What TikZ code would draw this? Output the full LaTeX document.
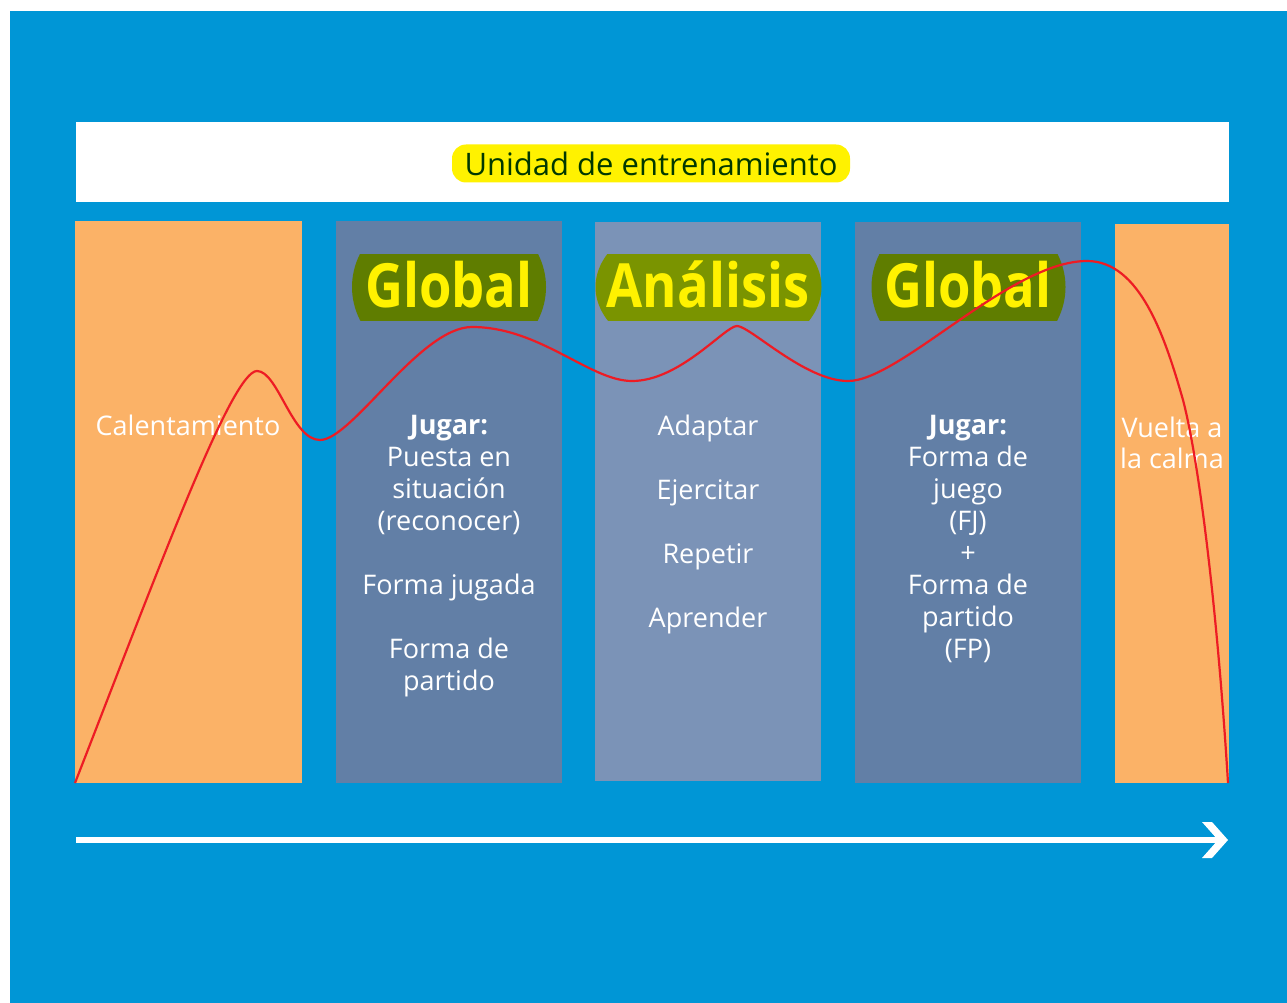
\documentclass[tikz,border=0pt]{standalone}
\usepackage{fontspec}
\setmainfont{Open Sans}
\usetikzlibrary{calc}
\definecolor{bgblue}{RGB}{0,150,214}
\definecolor{orangec}{RGB}{251,178,103}
\definecolor{colblue}{RGB}{98,127,166}
\definecolor{collight}{RGB}{123,147,183}
\definecolor{gdark}{RGB}{95,125,0}
\definecolor{glight}{RGB}{122,148,0}
\definecolor{titlegreen}{RGB}{0,56,0}
\definecolor{redc}{RGB}{237,28,36}
\begin{document}
\begin{tikzpicture}[x=1pt,y=-1pt,
  colbox/.style={inner sep=0pt, outer sep=0pt, draw=none},
  txt/.style={text=white, font=\fontsize{27}{32}\selectfont, align=center, inner sep=0pt, anchor=north},
  lbl/.style={text=yellow, font=\bfseries\fontsize{61}{61}\selectfont, inner sep=0pt, anchor=base}]
\useasboundingbox (0,0) rectangle (1287,1003);
\fill[white] (0,0) rectangle (1287,1003);
\fill[bgblue] (10,11) rectangle (1287,1003);
\fill[white] (76,122) rectangle (1229,202);
\node[fill=yellow, rounded corners=14pt, minimum width=398pt, minimum height=38pt, text=titlegreen, font=\fontsize{31}{34}\selectfont, inner sep=0pt] (title) at (651,163.5) {Unidad de entrenamiento};
% columns
\node[colbox, fill=orangec, minimum width=227pt, minimum height=562pt] (c1) at (188.5,502) {};
\node[colbox, fill=colblue, minimum width=226pt, minimum height=562pt] (c2) at (449,502) {};
\node[colbox, fill=collight, minimum width=226pt, minimum height=559pt] (c3) at (708,501.5) {};
\node[colbox, fill=colblue, minimum width=226pt, minimum height=561pt] (c4) at (968,502.5) {};
\node[colbox, fill=orangec, minimum width=114pt, minimum height=559pt] (c5) at (1172,503.5) {};
% label shapes
\begin{scope}
\clip (330,254) rectangle (570,320);
\fill[gdark] (449,287) ellipse [x radius=97pt, y radius=83pt];
\end{scope}
\begin{scope}
\clip (590,254) rectangle (830,320);
\fill[glight] (708.5,287) ellipse [x radius=113pt, y radius=74pt];
\end{scope}
\begin{scope}
\clip (850,254) rectangle (1090,320);
\fill[gdark] (968.5,287) ellipse [x radius=97pt, y radius=83pt];
\end{scope}
\node[lbl] (g1) at (449,307) {\scalebox{0.86}[1]{Global}};
\node[lbl] (an) at (708,307) {\scalebox{0.86}[1]{Análisis}};
\node[lbl] (g2) at (968,307) {\scalebox{0.86}[1]{Global}};
% texts
\node[txt] (t1) at (188,415) {Calentamiento};
\node[txt] (t2) at (449,415) {\textbf{Jugar:}\\Puesta en\\situación\\(reconocer)\\[32pt]Forma jugada\\[32pt]Forma de\\partido};
\node[txt] (t3) at (708,415) {Adaptar\\[32pt]Ejercitar\\[32pt]Repetir\\[32pt]Aprender};
\node[txt] (t4) at (968,415) {\textbf{Jugar:}\\Forma de\\juego\\(FJ)\\+\\Forma de\\partido\\(FP)};
\node[txt, font=\fontsize{27}{31}\selectfont] (t5) at (1172,417) {Vuelta a\\la calma};
% time arrow
\coordinate (ta) at (76,840);
\coordinate (tb) at (1220,840);
\draw[white, line width=5.5pt] (ta) -- (tb);
\fill[white] (1202,822) -- (1212,822) -- (1228,840) -- (1212,858) -- (1202,858) -- (1218,840) -- cycle;
% curve
\draw[redc, line width=2.2pt] (75,783) .. controls (160,565) and (232,371) .. (257,371)
  .. controls (278,371) and (292,440) .. (320,440)
  .. controls (352,440) and (420,327) .. (472,327)
  .. controls (540,327) and (590,381) .. (632,381)
  .. controls (680,381) and (725,326) .. (737,326)
  .. controls (750,326) and (805,381) .. (848,381)
  .. controls (900,381) and (1010,261) .. (1087,261)
  .. controls (1140,261) and (1165,337) .. (1183,400)
  .. controls (1200,465) and (1218,620) .. (1228,783);
\end{tikzpicture}
\end{document}
